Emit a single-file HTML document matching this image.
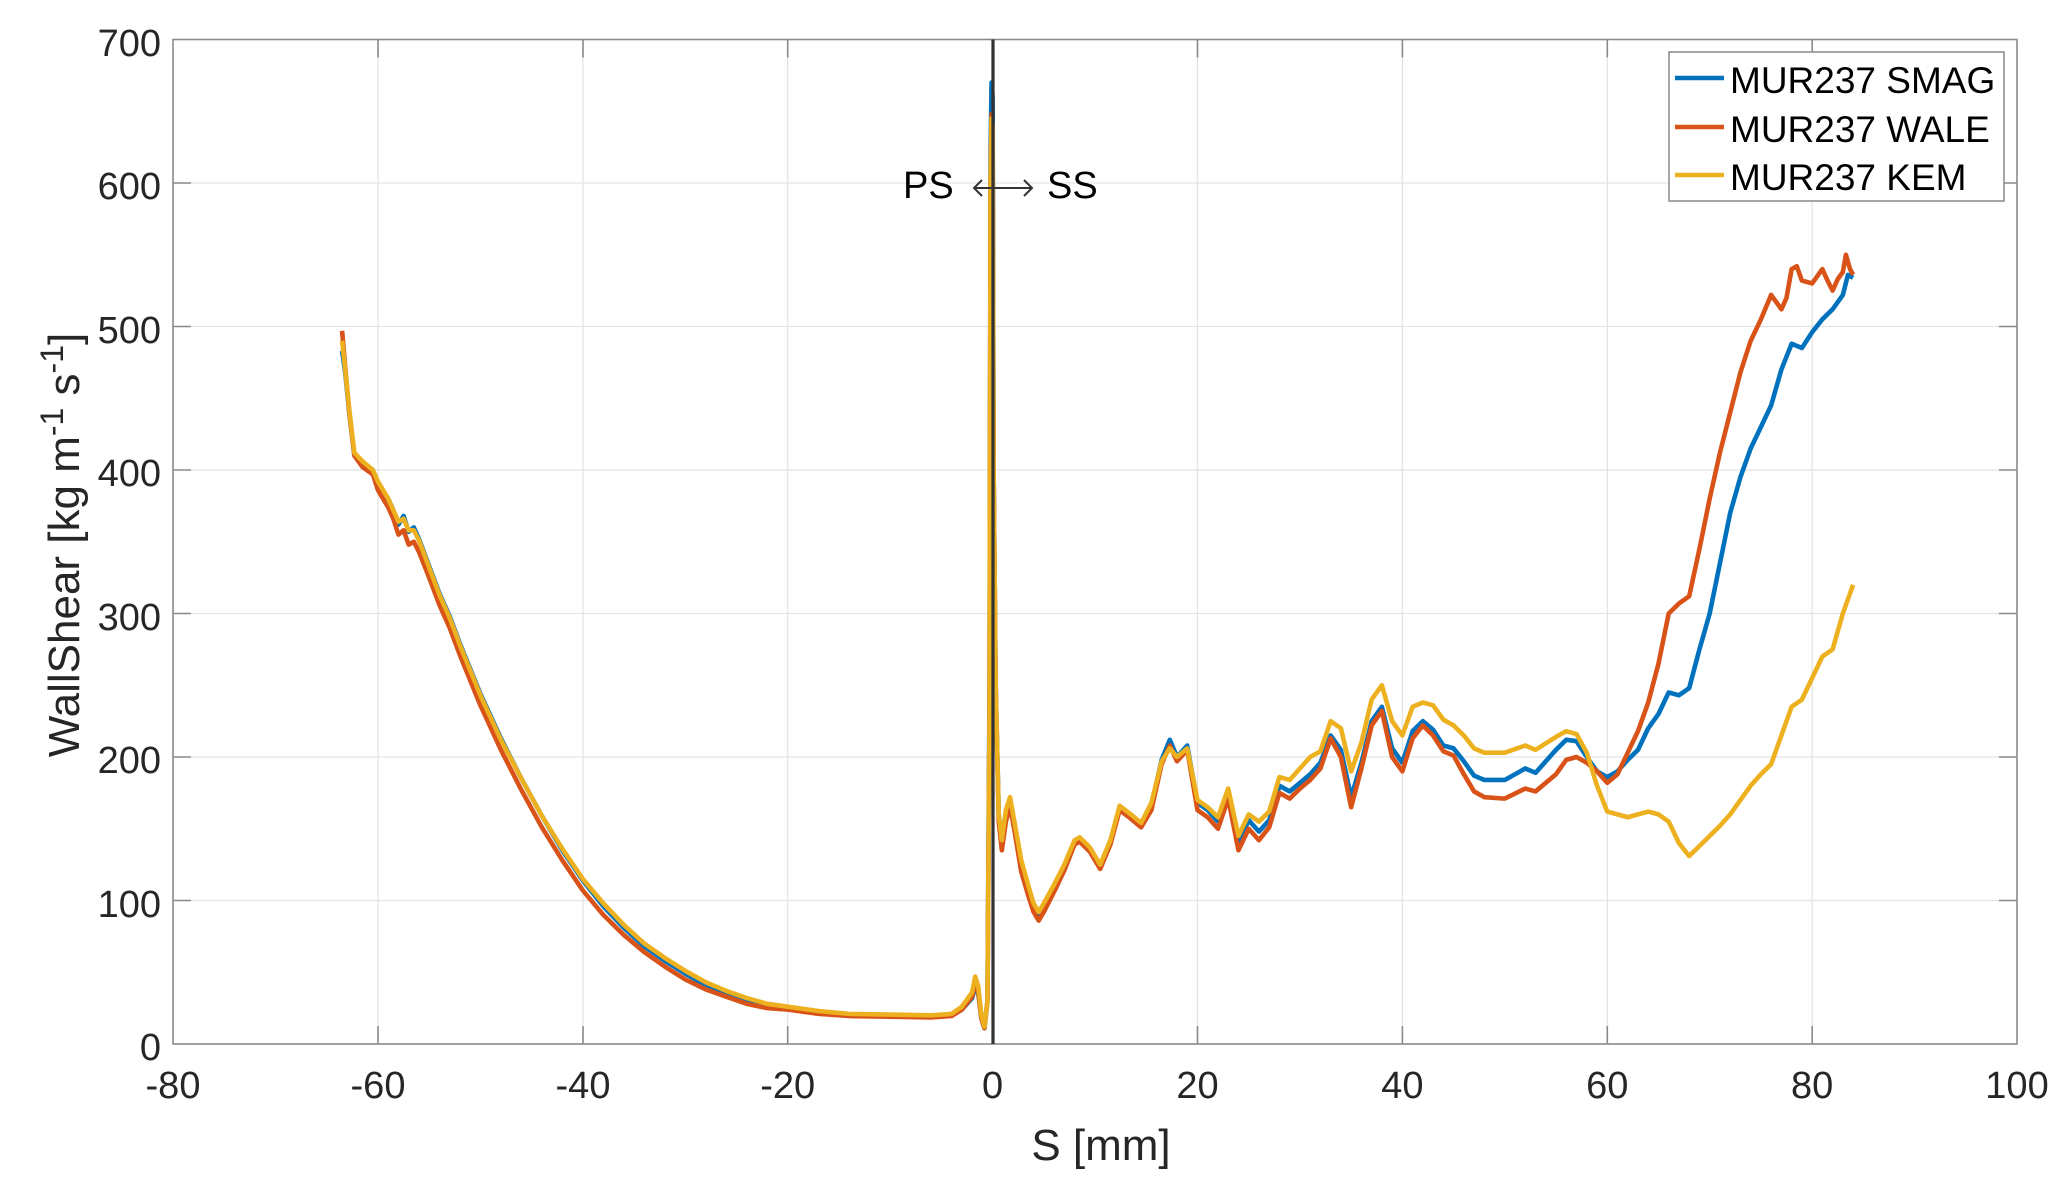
<!DOCTYPE html>
<html><head><meta charset="utf-8"><style>
html,body{margin:0;padding:0;background:#fff;}
svg{display:block;font-family:"Liberation Sans",sans-serif;}
</style></head><body>
<svg width="2070" height="1181" viewBox="0 0 2070 1181" xmlns="http://www.w3.org/2000/svg">
<rect width="2070" height="1181" fill="#fff"/>
<g stroke="#e4e4e4" stroke-width="1.3">
<line x1="378" y1="39.5" x2="378" y2="1044"/><line x1="583" y1="39.5" x2="583" y2="1044"/><line x1="787.7" y1="39.5" x2="787.7" y2="1044"/><line x1="992.6" y1="39.5" x2="992.6" y2="1044"/><line x1="1197.5" y1="39.5" x2="1197.5" y2="1044"/><line x1="1402.4" y1="39.5" x2="1402.4" y2="1044"/><line x1="1607.3" y1="39.5" x2="1607.3" y2="1044"/><line x1="1812.2" y1="39.5" x2="1812.2" y2="1044"/>
<line x1="173" y1="183" x2="2017" y2="183"/><line x1="173" y1="326.5" x2="2017" y2="326.5"/><line x1="173" y1="470" x2="2017" y2="470"/><line x1="173" y1="613.5" x2="2017" y2="613.5"/><line x1="173" y1="757" x2="2017" y2="757"/><line x1="173" y1="900.5" x2="2017" y2="900.5"/>
</g>
<g stroke="#8a8a8a" stroke-width="1.6">
<rect x="173" y="39.5" width="1844" height="1004.5" fill="none"/>
<path d="M378 1044v-18M583 1044v-18M787.7 1044v-18M992.6 1044v-18M1197.5 1044v-18M1402.4 1044v-18M1607.3 1044v-18M1812.2 1044v-18
M378 39.5v18M583 39.5v18M787.7 39.5v18M992.6 39.5v18M1197.5 39.5v18M1402.4 39.5v18M1607.3 39.5v18M1812.2 39.5v18
M173 183h18M173 326.5h18M173 470h18M173 613.5h18M173 757h18M173 900.5h18
M2017 183h-18M2017 326.5h-18M2017 470h-18M2017 613.5h-18M2017 757h-18M2017 900.5h-18"/>
</g>
<g transform="translate(992.6,1044) scale(10.244,-1.435)" fill="none" stroke-width="4.6" stroke-linejoin="round">
<polyline vector-effect="non-scaling-stroke" stroke="#0072BD" points="-63.5,483 -63.2,468 -62.8,440 -62.3,410 -61.5,405 -60.5,400 -60,390 -59,380 -58.5,372 -58,362 -57.5,368 -57,357 -56.5,360 -56,352 -55,333 -54,314 -53,298 -52,279 -50,244 -48,213 -46,185 -44,159 -42,135 -40,114 -38,96 -36,81 -34,68 -32,58 -30,49 -28,41 -26,35 -24,30 -22,27 -20,25 -17,22 -14,20.5 -10,20 -6,19.5 -4,20 -3,24 -2,32 -1.7,40 -1.4,35 -1.1,18 -0.8,11 -0.5,30 -0.3,250 -0.2,620 -0.1,670 0,660 0.1,400 0.3,250 0.6,160 0.9,140 1.3,162 1.7,170 2.2,150 2.8,125 3.5,108 4,96 4.5,90 5,96 6,109 7,123 8,140 8.5,142 9.5,135 10.5,124 11.5,140 12.4,164 13.5,158 14.5,153 15.5,166 16.5,198 17.3,212 18,200 19,208 20,168 21,163 22,155 23,175 24,140 25,156 26,148 27,156 28,180 29,176 30,182 31,188 32,196 33,215 34,205 35,172 36,196 37,225 38,235 39,206 40,196 41,218 42,225 43,219 44,208 45,206 46,197 47,187 48,184 50,184 52,192 53,189 55,205 56,212 57,211 58,200 59,190 60,186 61,190 62,198 63,205 64,220 65,230 66,245 67,243 68,248 69,275 70,300 71,335 72,370 73,395 74,415 75,430 76,445 77,470 78,488 79,485 80,496 81,505 82,512 83,522 83.5,536 84,534"/>
<polyline vector-effect="non-scaling-stroke" stroke="#D95319" points="-63.5,497 -63.2,472 -62.8,440 -62.3,410 -61.5,402 -60.5,397 -60,386 -59,374 -58.5,366 -58,355 -57.5,358 -57,348 -56.5,350 -56,343 -55,325 -54,306 -53,290 -52,271 -50,236 -48,205 -46,177 -44,151 -42,128 -40,107 -38,90 -36,76 -34,64 -32,54 -30,45 -28,38 -26,33 -24,28 -22,25 -20,24 -17,21 -14,19.5 -10,19 -6,18.5 -4,19.5 -3,24 -2,33 -1.7,43 -1.4,36 -1.1,18 -0.8,11 -0.5,30 -0.3,230 -0.2,600 -0.1,648 0,640 0.1,400 0.3,250 0.6,155 0.9,135 1.3,155 1.7,166 2.2,146 2.8,120 3.5,103 4,92 4.5,86 5,92 6,106 7,121 8,139 8.5,141 9.5,134 10.5,122 11.5,139 12.4,163 13.5,157 14.5,151 15.5,163 16.5,195 17.3,208 18,197 19,205 20,163 21,158 22,150 23,171 24,135 25,150 26,142 27,151 28,175 29,171 30,178 31,184 32,192 33,213 34,200 35,165 36,192 37,222 38,232 39,200 40,190 41,213 42,222 43,215 44,204 45,201 46,188 47,176 48,172 50,171 52,178 53,176 55,188 56,198 57,200 58,196 59,190 60,182 61,188 62,203 63,218 64,238 65,265 66,300 67,307 68,312 69,345 70,380 71,412 72,440 73,468 74,490 75,505 76,522 77,512 77.5,520 78,540 78.5,542 79,532 80,530 81,540 81.5,532 82,525 82.5,533 83,538 83.3,550 83.7,540 84,536"/>
<polyline vector-effect="non-scaling-stroke" stroke="#EDB120" points="-63.5,490 -63.2,470 -62.8,442 -62.3,412 -61.5,406 -60.5,400 -60,392 -59,380 -58.5,372 -58,364 -57.5,366 -57,358 -56.5,358 -56,351 -55,332 -54,313 -53,297 -52,278 -50,243 -48,212 -46,185 -44,159 -42,136 -40,115 -38,98 -36,83 -34,70 -32,60 -30,51 -28,43 -26,37 -24,32 -22,28 -20,26 -17,23 -14,21 -10,20.5 -6,20 -4,21 -3,26 -2,36 -1.7,47 -1.4,40 -1.1,20 -0.8,12 -0.5,30 -0.3,230 -0.2,600 -0.1,645 0,640 0.1,400 0.3,250 0.6,160 0.9,142 1.3,163 1.7,172 2.2,152 2.8,128 3.5,110 4,98 4.5,92 5,98 6,111 7,125 8,142 8.5,144 9.5,137 10.5,125 11.5,142 12.4,166 13.5,160 14.5,154 15.5,168 16.5,197 17.3,206 18,200 19,206 20,170 21,165 22,158 23,178 24,145 25,160 26,155 27,162 28,186 29,184 30,192 31,200 32,204 33,225 34,220 35,190 36,210 37,240 38,250 39,225 40,215 41,235 42,238 43,236 44,226 45,222 46,215 47,206 48,203 50,203 52,208 53,205 55,214 56,218 57,216 58,203 59,180 60,162 61,160 62,158 63,160 64,162 65,160 66,155 67,140 68,131 69,138 70,145 71,152 72,160 73,170 74,180 75,188 76,195 77,215 78,235 79,240 80,255 81,270 82,275 83,300 84,320"/>
</g>
<line x1="993" y1="39.5" x2="993" y2="1044" stroke="#333" stroke-width="3.2"/>
<g font-size="38" fill="#262626" text-anchor="end">
<text x="161" y="56">700</text><text x="161" y="199">600</text><text x="161" y="343">500</text><text x="161" y="486">400</text><text x="161" y="630">300</text><text x="161" y="773">200</text><text x="161" y="917">100</text><text x="161" y="1060">0</text>
</g>
<g font-size="38" fill="#262626" text-anchor="middle">
<text x="173" y="1098">-80</text><text x="378" y="1098">-60</text><text x="583" y="1098">-40</text><text x="787.7" y="1098">-20</text><text x="992.6" y="1098">0</text><text x="1197.5" y="1098">20</text><text x="1402.4" y="1098">40</text><text x="1607.3" y="1098">60</text><text x="1812.2" y="1098">80</text><text x="2017" y="1098">100</text>
</g>
<text x="1101" y="1160" font-size="44" fill="#262626" text-anchor="middle">S [mm]</text>
<text transform="translate(79,545) rotate(-90)" font-size="44" fill="#262626" text-anchor="middle">WallShear [kg m<tspan dy="-16" font-size="32">-1</tspan><tspan dy="16"> s</tspan><tspan dy="-16" font-size="32">-1</tspan><tspan dy="16">]</tspan></text>
<text x="903" y="198" font-size="38" fill="#000">PS</text>
<text x="1047" y="198" font-size="38" fill="#000">SS</text>
<path d="M974 188H1032M982 180l-8 8 8 8M1024 180l8 8-8 8" stroke="#333" stroke-width="2" fill="none"/>
<rect x="1669" y="52" width="335" height="149" fill="#fff" stroke="#888" stroke-width="1.5"/>
<line x1="1675" y1="78" x2="1724" y2="78" stroke="#0072BD" stroke-width="4.5"/>
<line x1="1675" y1="127" x2="1724" y2="127" stroke="#D95319" stroke-width="4.5"/>
<line x1="1675" y1="175" x2="1724" y2="175" stroke="#EDB120" stroke-width="4.5"/>
<g font-size="37" fill="#000">
<text x="1730" y="93">MUR237 SMAG</text><text x="1730" y="142">MUR237 WALE</text><text x="1730" y="190">MUR237 KEM</text>
</g>
</svg>
</body></html>
